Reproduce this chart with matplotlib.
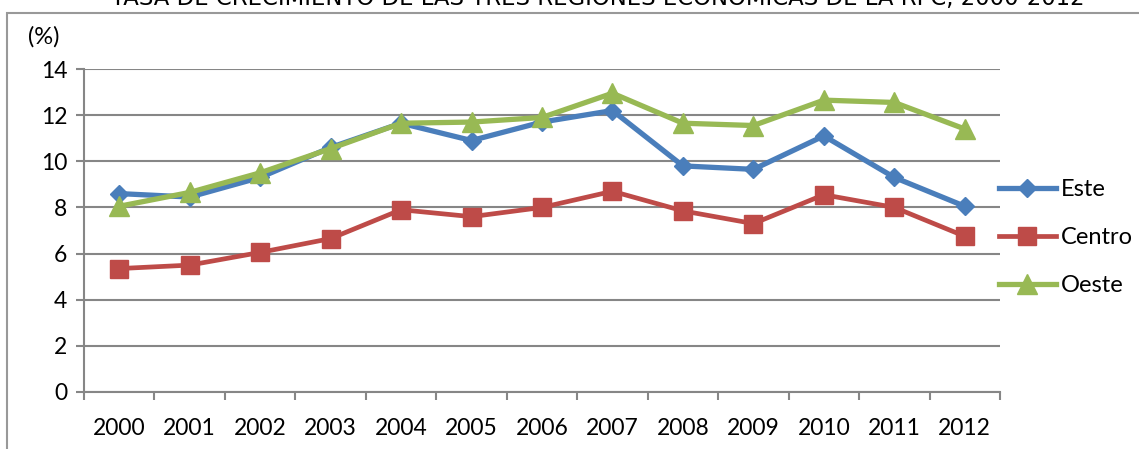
import matplotlib.pyplot as plt
from matplotlib.patches import Rectangle

plt.rcParams['font.family'] = ['Lato', 'DejaVu Sans']

years = ['2000', '2001', '2002', '2003', '2004', '2005', '2006',
         '2007', '2008', '2009', '2010', '2011', '2012']
este = [8.6, 8.45, 9.3, 10.6, 11.65, 10.9, 11.7, 12.2, 9.8, 9.65, 11.1, 9.3, 8.05]
centro = [5.35, 5.5, 6.05, 6.65, 7.9, 7.6, 8.0, 8.7, 7.85, 7.3, 8.55, 8.0, 6.75]
oeste = [8.05, 8.65, 9.5, 10.55, 11.65, 11.7, 11.9, 12.95, 11.65, 11.55, 12.65, 12.55, 11.4]

grid_c = '#868686'

fig = plt.figure(figsize=(11.39, 4.49), dpi=100)
ax = fig.add_axes([84 / 1139, 1 - 392 / 449, 916 / 1139, 323 / 449])

x = list(range(len(years)))
ax.plot(x, este, color='#4A7EBB', lw=3.8, marker='D', ms=9, label='Este', zorder=3)
ax.plot(x, centro, color='#BE4B48', lw=3.4, marker='s', ms=13, label='Centro', zorder=3)
ax.plot(x, oeste, color='#98B954', lw=3.8, marker='^', ms=14, label='Oeste', zorder=4)

ax.set_xlim(-0.5, len(years) - 0.5)
ax.set_ylim(0, 14)
ax.set_yticks(range(0, 15, 2))
ax.set_xticks(x)
ax.set_xticklabels(years)
ax.set_xticks([i - 0.5 for i in range(len(years) + 1)], minor=True)
ax.tick_params(axis='x', which='major', length=0, pad=19, labelsize=16.5)
ax.tick_params(axis='x', which='minor', length=6, width=1.5, color=grid_c)
ax.tick_params(axis='y', length=6, width=1.5, color=grid_c, labelsize=16.5, pad=6)
ax.yaxis.grid(True, color=grid_c, lw=1.5)
ax.set_axisbelow(True)
for s in ['top', 'right']:
    ax.spines[s].set_visible(False)
for s in ['left', 'bottom']:
    ax.spines[s].set_color(grid_c)
    ax.spines[s].set_linewidth(1.5)

leg = ax.legend(loc='upper left', bbox_to_anchor=(0.999, 0.66), frameon=False,
                fontsize=17, handlelength=2.4, handletextpad=0.2,
                labelspacing=1.15, borderaxespad=0.0, borderpad=0.0)

fig.text(598 / 1139, 1 - 5 / 449, 'TASA DE CRECIMIENTO DE LAS TRES REGIONES ECONÓMICAS DE LA RPC, 2000-2012',
         ha='center', va='baseline', fontsize=16.4, family='Liberation Sans Narrow')
fig.text(28 / 1139, 1 - 37 / 449, '(%)', ha='left', va='center', fontsize=17)

fig.patches.append(Rectangle((7 / 1139, -0.1), 1.2, 1.1 - 13 / 449,
                             transform=fig.transFigure, fill=False,
                             edgecolor='#999999', lw=1.5))

fig.savefig('out.png', dpi=100)
